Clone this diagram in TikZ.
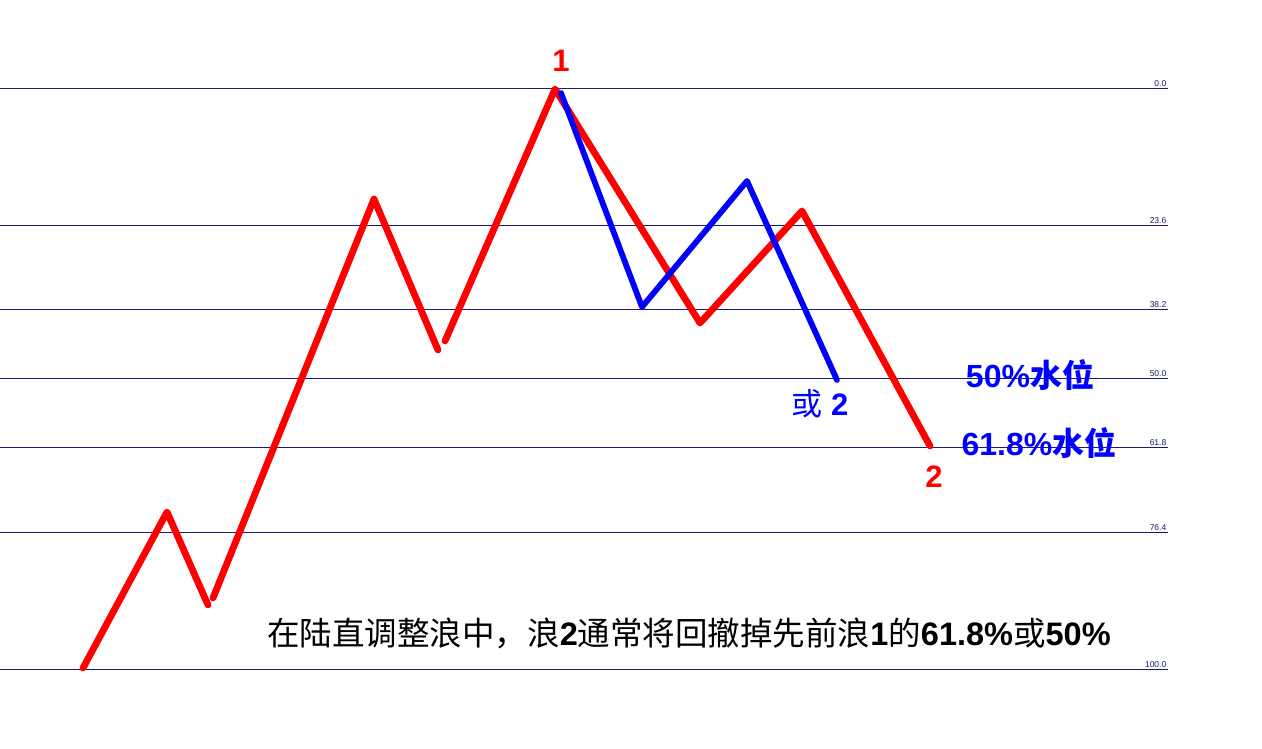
\documentclass[tikz,border=0pt]{standalone}
\usepackage{fontspec}
\setmainfont{Liberation Sans}
\newfontfamily\cjk{Noto Sans CJK SC}
\usetikzlibrary{positioning}
\definecolor{levelnavy}{RGB}{26,26,112}
\definecolor{wavered}{RGB}{255,0,0}
\definecolor{waveblue}{RGB}{0,0,255}
\newcommand\lat[1]{{\normalfont\bfseries #1}}
\begin{document}
\begin{tikzpicture}[x=1pt, y=-1pt, level/.style={draw=levelnavy, line width=0.9pt}, levellab/.style={font=\fontsize{8.5}{9}\selectfont, text=levelnavy, anchor=south east, inner sep=1.5pt}, redwave/.style={draw=wavered, line width=6.8pt, line join=round, line cap=round}, bluewave/.style={draw=waveblue, line width=5.8pt, line join=round, line cap=round}, wavelab/.style={font=\fontsize{31}{33}\selectfont, inner sep=0pt}, levelnote/.style={wavelab, font=\fontsize{32}{34}\selectfont, text=waveblue}, note/.style={font=\fontsize{32.5}{35}\selectfont, inner sep=0pt}
]
  \useasboundingbox[fill=white] (0,0) rectangle (1262,749);
  \foreach \y/\pct in {88/0.0, 225/23.6, 309/38.2, 378/50.0, 447/61.8, 532/76.4, 669/100.0} {
    \draw[level] (0,\y) -- (1168,\y);
    \node[levellab] (lvl-\pct) at (1168,\y) {\pct};
  }
  \coordinate (w0) at (83,668);
  \coordinate (w1) at (167,512);
  \coordinate (w2a) at (208,605);
  \coordinate (w2b) at (213,598);
  \coordinate (w3) at (374,199);
  \coordinate (w4a) at (438,350);
  \coordinate (w4b) at (445,341);
  \coordinate (w5) at (555,89);
  \coordinate (w6) at (700,323);
  \coordinate (w7) at (802,211);
  \coordinate (w8) at (930,446);
  \coordinate (b1) at (561,93);
  \coordinate (b2) at (642,307);
  \coordinate (b3) at (747,181);
  \coordinate (b4) at (837,380);
  \draw[redwave] (w0) -- (w1) -- (w2a);
  \draw[redwave] (w2b) -- (w3) -- (w4a);
  \draw[redwave] (w4b) -- (w5) -- (w6) -- (w7) -- (w8);
  \draw[bluewave] (b1) -- (b2) -- (b3) -- (b4);
  \node[wavelab, text=wavered] (top1) at (561,61) {\lat{1}};
  \node[wavelab, text=wavered] (end2) at (934,477) {\lat{2}};
  \node[wavelab, text=waveblue] (alt2) at (820,404) {{\cjk 或} \lat{2}};
  \node[levelnote] (half) at (1030,375) {\lat{50\%}{\cjk\bfseries 水位}};
  \node[levelnote] (gold) at (1039,443) {\lat{61.8\%}{\cjk\bfseries 水位}};
  \node[note] (rule) at (689,633) {\cjk 在陆直调整浪中，浪\lat{2}通常将回撤掉先前浪\lat{1}的\lat{61.8\%}或\lat{50\%}};
\end{tikzpicture}
\end{document}
